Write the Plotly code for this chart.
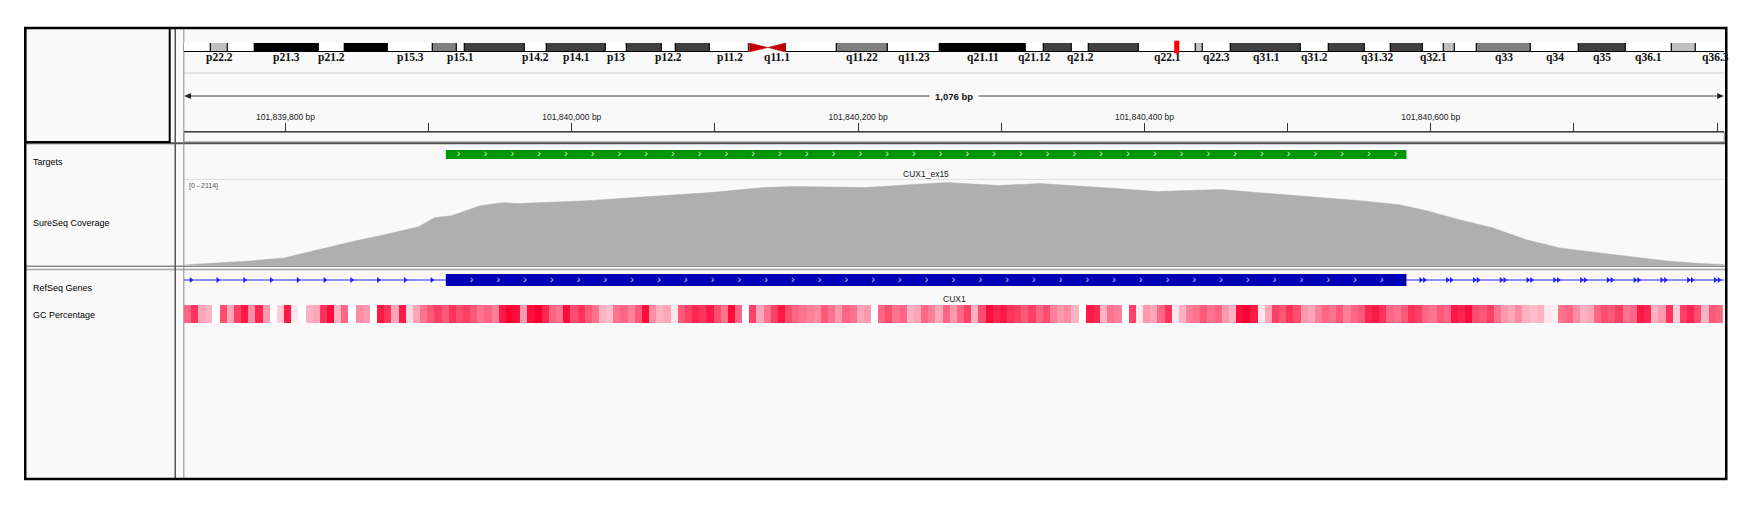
#!/usr/bin/env python3
# -*- coding: utf-8 -*-

"""
IGV-style view of CUX1 exon 15 (chr7) redrawn with plotly:
ideogram + ruler header, target, coverage, RefSeq gene and GC% tracks.
"""

import numpy as np
import plotly.graph_objects as go


W, H = 1744, 513
# small horizontal fudge so the frame lands where the screenshot has it
W_LAYOUT = W * 0.99
SANS = "Liberation Sans, Arial, sans-serif"
SERIF = "Liberation Serif, Times New Roman, serif"
PANEL_BG = "#F9F9F9"

# visible window (bp)
VIEW_START = 101839729
VIEW_END = 101840805

TICK_POS = [101839800, 101839900, 101840000, 101840100, 101840200, 101840300,
            101840400, 101840500, 101840600, 101840700, 101840800]
TICK_LABELED = [101839800, 101840000, 101840200, 101840400, 101840600, 101840800]

# chr7 cytobands (Mb)
BAND_NAMES = ["p22.3", "p22.2", "p22.1", "p21.3", "p21.2", "p21.1", "p15.3", "p15.2",
              "p15.1", "p14.3", "p14.2", "p14.1", "p13", "p12.3", "p12.2", "p12.1",
              "p11.2", "p11.1", "q11.1", "q11.21", "q11.22", "q11.23", "q21.11",
              "q21.12", "q21.13", "q21.2", "q21.3", "q22.1", "q22.2", "q22.3", "q31.1",
              "q31.2", "q31.31", "q31.32", "q31.33", "q32.1", "q32.2", "q32.3", "q33",
              "q34", "q35", "q36.1", "q36.2", "q36.3"]
BAND_START = [0.0, 2.8, 4.5, 7.3, 13.8, 16.5, 20.9, 25.5, 28.0, 28.8, 35.0, 37.2, 43.3,
              45.4, 49.0, 50.5, 54.0, 58.0, 59.9, 61.7, 67.0, 72.2, 77.5, 86.4, 88.2,
              91.1, 92.8, 98.0, 103.8, 104.5, 107.4, 114.6, 117.4, 121.1, 123.8, 127.1,
              129.2, 130.4, 132.6, 138.2, 143.1, 147.9, 152.6, 155.1]
BAND_END = [2.8, 4.5, 7.3, 13.8, 16.5, 20.9, 25.5, 28.0, 28.8, 35.0, 37.2, 43.3, 45.4,
            49.0, 50.5, 54.0, 58.0, 59.9, 61.7, 67.0, 72.2, 77.5, 86.4, 88.2, 91.1,
            92.8, 98.0, 103.8, 104.5, 107.4, 114.6, 117.4, 121.1, 123.8, 127.1, 129.2,
            130.4, 132.6, 138.2, 143.1, 147.9, 152.6, 155.1, 159.1]
BAND_STAIN = ["gneg", "gpos25", "gneg", "gpos100", "gneg", "gpos100", "gneg", "gpos50",
              "gneg", "gpos75", "gneg", "gpos75", "gneg", "gpos75", "gneg", "gpos75",
              "gneg", "acen", "acen", "gneg", "gpos50", "gneg", "gpos100", "gneg",
              "gpos75", "gneg", "gpos75", "gneg", "gpos25", "gneg", "gpos75", "gneg",
              "gpos75", "gneg", "gpos75", "gneg", "gpos25", "gneg", "gpos50", "gneg",
              "gpos75", "gneg", "gpos25", "gneg"]
BAND_LABELS = ["p22.2", "p21.3", "p21.2", "p15.3", "p15.1", "p14.2", "p14.1", "p13",
               "p12.2", "p11.2", "q11.1", "q11.22", "q11.23", "q21.11", "q21.12", "q21.2",
               "q22.1", "q22.3", "q31.1", "q31.2", "q31.32", "q32.1", "q33", "q34", "q35",
               "q36.1", "q36.3"]
IDEO_SPAN = 158.0

TARGET_NAME = "CUX1_ex15"
TARGET_START = 101839912
TARGET_END = 101840583

GENE_NAME = "CUX1"
EXON_START = 101839912
EXON_END = 101840583

COV_MAX = 2114
COV_POS = [101839729, 101839736, 101839752, 101839775, 101839799, 101839822, 101839846,
           101839869, 101839893, 101839904, 101839916, 101839936, 101839952, 101839962,
           101840011, 101840054, 101840097, 101840134, 101840155, 101840205, 101840226,
           101840262, 101840298, 101840327, 101840370, 101840409, 101840453, 101840479,
           101840502, 101840550, 101840578, 101840597, 101840620, 101840643, 101840667,
           101840690, 101840718, 101840742, 101840765, 101840788, 101840805]
COV_VAL = [8, 31, 64, 115, 192, 397, 602, 781, 986, 1217, 1268, 1524, 1601, 1576,
           1652, 1755, 1857, 1986, 2011, 1986, 2037, 2114, 2037, 2088, 1986, 1883, 1934,
           1857, 1781, 1652, 1550, 1396, 1166, 961, 653, 448, 320, 218, 115, 51, 26]

GC_BIN = 5
GC_VALUES = [
    60, 80, 35, 30, 0, 70, 35, 75, 90, 45,
    85, 40, 0, 20, 90, 10, 0, 30, 35, 80,
    95, 30, 60, 0, 45, 40, 0, 90, 80, 35,
    90, 15, 35, 55, 65, 75, 65, 80, 70, 75,
    65, 55, 60, 50, 90, 100, 95, 40, 95, 100,
    85, 60, 55, 95, 70, 80, 65, 55, 30, 25,
    55, 60, 50, 65, 95, 45, 30, 35, 10, 65,
    75, 85, 80, 90, 70, 55, 95, 60, 0, 75,
    35, 55, 75, 90, 70, 60, 55, 50, 45, 65,
    55, 40, 60, 55, 35, 40, 0, 60, 70, 55,
    60, 30, 35, 60, 50, 35, 60, 40,
    60, 75, 30, 70, 95, 85, 90, 80, 75, 65,
    75, 60, 70, 50, 40, 45, 30, 0, 90, 85,
    30, 55, 50, 0, 75, 10, 40, 35, 60, 80,
    10, 30, 50, 55, 65, 55, 60, 40, 30, 95,
    100, 90, 10, 35, 75, 65, 80, 70, 40, 35,
    50, 60, 55, 65, 50, 60, 65, 85, 90, 80,
    60, 55, 65, 80, 75, 60, 55, 65, 60, 90,
    85, 95, 70, 65, 75, 55, 40, 35, 45, 30,
    25, 30, 10, 5, 55, 60, 45, 30, 35, 60,
    70, 65, 75, 55, 60, 90, 85, 30, 40, 80,
    20, 75, 85, 70, 30, 65, 60,
]

TRACK_NAMES = ["Targets", "SureSeq Coverage", "RefSeq Genes", "GC Percentage"]
TRACK_NAME_Y = [162, 223, 288, 315]

STAIN_COLORS = {"gneg": "#FFFFFF", "gpos25": "#C0C0C0", "gpos50": "#808080",
                "gpos75": "#404040", "gpos100": "#000000"}


def fx(p):
    return p / W_LAYOUT


def fy(p):
    return 1 - p / H


def hline(y, x0, x1, color, width):
    return dict(type="line", xref="paper", yref="paper", x0=fx(x0), x1=fx(x1),
                y0=fy(y), y1=fy(y), line=dict(color=color, width=width), layer="below")


def vline(x, y0, y1, color, width):
    return dict(type="line", xref="paper", yref="paper", x0=fx(x), x1=fx(x),
                y0=fy(y0), y1=fy(y1), line=dict(color=color, width=width), layer="below")


def label(text, x, y, xref="paper", xanchor="center", size=9, family=SANS,
          color="#000000", **kw):
    return dict(x=x, xref=xref, y=fy(y), yref="paper", text=text, showarrow=False,
                xanchor=xanchor, yanchor="middle",
                font=dict(family=family, size=size, color=color), **kw)


def build_figure():
    fig = go.Figure()

    # ---- ruler baseline (keeps the x/y subplot alive for the tick axis)
    fig.add_trace(go.Scatter(
        x=[VIEW_START, VIEW_END], y=[1, 1], mode="lines",
        line=dict(color="rgba(0,0,0,0)", width=0),
        xaxis="x", yaxis="y", hoverinfo="skip", showlegend=False,
    ))

    # ---- ideogram
    idx = [i for i, s in enumerate(BAND_STAIN) if s != "acen"]
    fig.add_trace(go.Bar(
        orientation="h",
        y=[0.5] * len(idx),
        base=[BAND_START[i] for i in idx],
        x=[BAND_END[i] - BAND_START[i] for i in idx],
        width=1,
        marker=dict(color=[STAIN_COLORS[BAND_STAIN[i]] for i in idx],
                    line=dict(color="#000000", width=1)),
        xaxis="x2", yaxis="y2", hoverinfo="skip", showlegend=False,
    ))
    cx, cy = [], []
    for i, s in enumerate(BAND_STAIN):
        if s != "acen":
            continue
        if BAND_NAMES[i].startswith("p"):
            cx += [BAND_START[i], BAND_START[i], BAND_END[i], BAND_START[i], None]
        else:
            cx += [BAND_END[i], BAND_END[i], BAND_START[i], BAND_END[i], None]
        cy += [1, 0, 0.5, 1, None]
    fig.add_trace(go.Scatter(
        x=cx, y=cy, mode="lines", fill="toself", fillcolor="#C00000",
        line=dict(color="#C00000", width=0.5),
        xaxis="x2", yaxis="y2", hoverinfo="skip", showlegend=False,
    ))

    # ---- coverage
    fig.add_trace(go.Scatter(
        x=COV_POS, y=COV_VAL, mode="lines", fill="tozeroy",
        fillcolor="#AFAFAF", line=dict(color="#AFAFAF", width=0.5),
        xaxis="x", yaxis="y4", hoverinfo="skip", showlegend=False,
    ))

    # ---- target chevrons
    tx = np.arange(TARGET_START + 9, TARGET_END - 4, 18.7)
    fig.add_trace(go.Scatter(
        x=tx, y=[0.5] * len(tx), mode="text", text=["›"] * len(tx),
        textfont=dict(color="#D6F2D6", size=11, family=SANS),
        xaxis="x", yaxis="y3", hoverinfo="skip", showlegend=False,
    ))

    # ---- gene: exon chevrons and intron arrows
    ex = np.arange(EXON_START + 18, EXON_END - 4, 18.7)
    fig.add_trace(go.Scatter(
        x=ex, y=[0.5] * len(ex), mode="text", text=["›"] * len(ex),
        textfont=dict(color="#C8C8FF", size=11, family=SANS),
        xaxis="x", yaxis="y5", hoverinfo="skip", showlegend=False,
    ))
    left = np.arange(VIEW_START + 5, EXON_START - 4, 18.7)
    right = np.arange(EXON_END + 10, VIEW_END, 18.7)
    arrows = np.concatenate([left, right, right + 2.6])
    fig.add_trace(go.Scatter(
        x=arrows, y=[0.5] * len(arrows), mode="markers",
        marker=dict(symbol="triangle-right", size=5, color="#1E1EFF", line=dict(width=0)),
        xaxis="x", yaxis="y5", hoverinfo="skip", showlegend=False,
    ))

    # ---- GC percentage heatmap
    gx = [VIEW_START + (i + 0.5) * GC_BIN for i in range(len(GC_VALUES))]
    fig.add_trace(go.Heatmap(
        x=gx, y=[0], z=[GC_VALUES], zmin=0, zmax=100,
        colorscale=[[0, "#FFFFFF"], [1, "#FF0033"]], showscale=False,
        xaxis="x", yaxis="y6", hoverinfo="skip",
    ))

    # ---- shapes
    locus = (VIEW_START + VIEW_END) / 2e6
    shapes = [
        dict(type="rect", xref="paper", yref="paper", x0=fx(25), x1=fx(1709),
             y0=fy(479), y1=fy(28), fillcolor=PANEL_BG, line=dict(width=0), layer="below"),
        hline(73, 182, 1707, "#DCDCDC", 1.5),
        hline(96, 184, 1705, "#444444", 1),
        dict(type="rect", xref="paper", yref="paper", x0=fx(182), x1=fx(1707),
             y0=fy(142), y1=fy(132.5), line=dict(color="#8A8A8A", width=1), layer="below"),
        hline(143.3, 25, 1709, "#555555", 2),
        hline(179.3, 182, 1707, "#DCDCDC", 1),
        hline(266.3, 25, 1709, "#8A8A8A", 1.5),
        hline(269.5, 25, 1709, "#A8A8A8", 1.5),
        vline(173.5, 28, 479, "#555555", 1.5),
        vline(182, 28, 479, "#8A8A8A", 1),
        # target bar
        dict(type="rect", xref="x", yref="y3", x0=TARGET_START, x1=TARGET_END, y0=0, y1=1,
             fillcolor="#009600", line=dict(width=0), layer="below"),
        # gene line and exon
        dict(type="line", xref="x", yref="y5", x0=VIEW_START, x1=VIEW_END, y0=0.5, y1=0.5,
             line=dict(color="#2828FF", width=1), layer="below"),
        dict(type="rect", xref="x", yref="y5", x0=EXON_START, x1=EXON_END, y0=0, y1=1,
             fillcolor="#0000B4", line=dict(width=0), layer="below"),
        # current locus marker on the ideogram
        dict(type="rect", xref="x2", yref="paper", x0=locus - 0.26, x1=locus + 0.26,
             y0=fy(53.3), y1=fy(40.7), fillcolor="#FF0000", line=dict(width=0), layer="above"),
        # ruler arrow heads
        dict(type="path", xref="paper", yref="paper", fillcolor="#222222", line=dict(width=0),
             path=f"M {fx(182.5)},{fy(96)} L {fx(189)},{fy(93)} L {fx(189)},{fy(99)} Z"),
        dict(type="path", xref="paper", yref="paper", fillcolor="#222222", line=dict(width=0),
             path=f"M {fx(1706.5)},{fy(96)} L {fx(1700)},{fy(93)} L {fx(1700)},{fy(99)} Z"),
        # clip what spills right of the frame
        dict(type="rect", xref="paper", yref="paper", x0=fx(1710), x1=1.05, y0=0, y1=1,
             fillcolor="#FFFFFF", line=dict(width=0), layer="above"),
        # header name box and outer frame
        dict(type="rect", xref="paper", yref="paper", x0=fx(25), x1=fx(168),
             y0=fy(142), y1=fy(28), line=dict(color="#000000", width=2), layer="above"),
        dict(type="rect", xref="paper", yref="paper", x0=fx(25), x1=fx(1709),
             y0=fy(479), y1=fy(28), line=dict(color="#000000", width=2.5), layer="above"),
    ]

    # ---- annotations
    ann = []
    for name in BAND_LABELS:
        i = BAND_NAMES.index(name)
        ann.append(label(f"<b>{name}</b>", (BAND_START[i] + BAND_END[i]) / 2, 57,
                         xref="x2", size=11.5, family=SERIF, color="#111111"))
    ann.append(label(f"<b>{VIEW_END - VIEW_START:,} bp</b>", fx(944.5), 96,
                     size=9.5, color="#111111", bgcolor=PANEL_BG, borderpad=5))
    ann.append(label(f"[0 - {COV_MAX}]", fx(185), 186, xanchor="left",
                     size=7, color="#555555"))
    ann.append(label(TARGET_NAME, (TARGET_START + TARGET_END) / 2, 173.5, xref="x",
                     size=8.5, color="#222222"))
    ann.append(label(GENE_NAME, (VIEW_START + VIEW_END) / 2, 299, xref="x",
                     size=8.5, color="#222222"))
    for name, y in zip(TRACK_NAMES, TRACK_NAME_Y):
        ann.append(label(name, fx(31), y, xanchor="left", size=9))

    data_dom = [fx(182), fx(1707)]
    hidden = dict(visible=False, fixedrange=True, showgrid=False, zeroline=False)

    fig.update_layout(
        width=W, height=H, autosize=False,
        margin=dict(l=0, r=0, t=0, b=0),
        paper_bgcolor="#FFFFFF", plot_bgcolor="rgba(0,0,0,0)",
        showlegend=False, bargap=0,
        shapes=shapes, annotations=ann,
        xaxis=dict(
            domain=data_dom, range=[VIEW_START, VIEW_END], anchor="y", side="top",
            tickmode="array", tickvals=TICK_POS,
            ticktext=[f"{v:,} bp" if v in TICK_LABELED else "" for v in TICK_POS],
            ticks="outside", ticklen=8, tickwidth=1, tickcolor="#333333",
            tickfont=dict(family=SANS, size=8.5, color="#222222"),
            showline=True, linecolor="#444444", linewidth=1,
            showgrid=False, zeroline=False, fixedrange=True,
        ),
        yaxis=dict(domain=[fy(142), fy(132)], range=[0, 1], anchor="x", **hidden),
        xaxis2=dict(domain=data_dom, range=[0, IDEO_SPAN], anchor="y2", **hidden),
        yaxis2=dict(domain=[fy(52), fy(43)], range=[0, 1], anchor="x2", **hidden),
        yaxis3=dict(domain=[fy(159), fy(150)], range=[0, 1], anchor="x", **hidden),
        yaxis4=dict(domain=[fy(265.5), fy(179.5)], range=[0, COV_MAX * 1.036], anchor="x", **hidden),
        yaxis5=dict(domain=[fy(286), fy(274)], range=[0, 1], anchor="x", **hidden),
        yaxis6=dict(domain=[fy(323), fy(305)], range=[-0.5, 0.5], anchor="x", **hidden),
    )
    return fig


def main():
    fig = build_figure()
    fig.write_html(
        "out.html",
        config={"displayModeBar": False, "responsive": False},
        post_script="document.body.style.margin='0px';document.body.style.overflow='hidden';",
    )


if __name__ == "__main__":
    main()
